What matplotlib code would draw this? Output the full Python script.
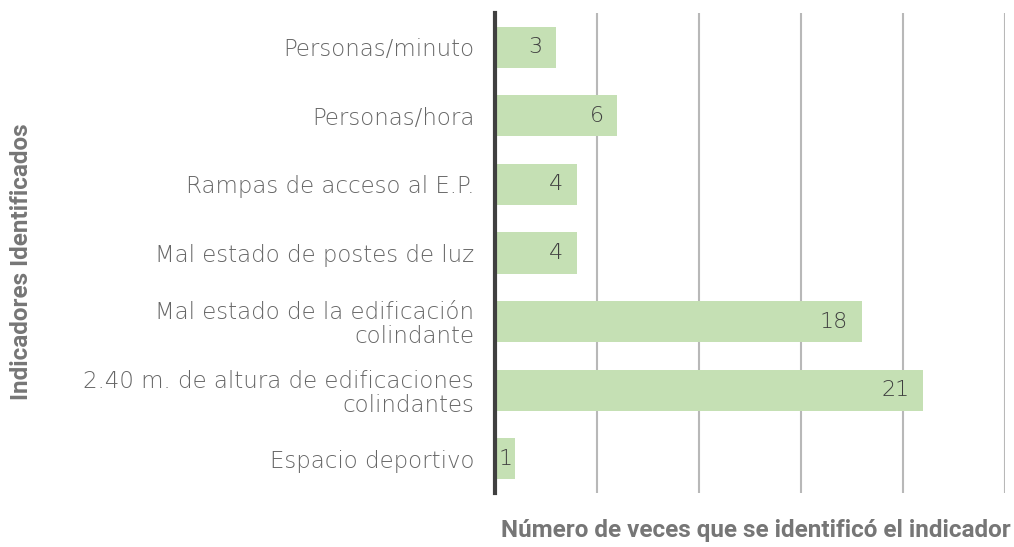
import matplotlib.pyplot as plt

categories = ['Personas/minuto', 'Personas/hora', 'Rampas de acceso al E.P.',
              'Mal estado de postes de luz', 'Mal estado de la edificación\ncolindante',
              '2.40 m. de altura de edificaciones\ncolindantes', 'Espacio deportivo']
counts = [3, 6, 4, 4, 18, 21, 1]
grid_ticks = [5, 10, 15, 20, 25]

fig = plt.figure(figsize=(10.14, 5.47), dpi=100)
ax = fig.add_axes([495 / 1014, 54 / 547, 510 / 1014, 480 / 547])

y = list(range(len(categories)))
ax.barh(y, counts, height=0.6, color='#c5e0b4', zorder=2)
ax.set_ylim(len(categories) - 0.5, -0.5)
ax.set_xlim(0, 25)

# vertical gridlines only, no tick labels
for g in grid_ticks:
    ax.axvline(g, color='#b8b8b8', lw=1.5, zorder=1)
ax.set_xticks([])
ax.set_yticks(y)
ax.set_yticklabels(categories, fontsize=16.5, color='#666666', family='DejaVu Sans',
                   fontweight='light', linespacing=1.05)
ax.tick_params(axis='y', length=0, pad=15)

for s in ['top', 'right', 'bottom']:
    ax.spines[s].set_visible(False)
ax.spines['left'].set_color('#404040')
ax.spines['left'].set_linewidth(3)
ax.spines['left'].set_zorder(3)

for yi, v in zip(y, counts):
    if v < 2:
        # too short for an inside-end label, center it in the bar
        ax.text(v / 2, yi, str(v), ha='center', va='center', fontsize=16,
                color='#404040', family='DejaVu Sans', fontweight='light')
    else:
        ax.annotate(str(v), (v, yi), xytext=(-10, 0), textcoords='offset points',
                    ha='right', va='center', fontsize=16, color='#404040',
                    family='DejaVu Sans', fontweight='light')

title_font = dict(family=['Roboto', 'DejaVu Sans'], fontweight='bold',
                  fontsize=17.5, color='#767676')
fig.text(756 / 1014, 1 - 530 / 547, 'Número de veces que se identificó el indicador',
         ha='center', va='center', **title_font)
fig.text(22 / 1014, 1 - 262 / 547, 'Indicadores Identificados', rotation=90,
         ha='center', va='center', **title_font)

fig.savefig('out.png', dpi=100)
